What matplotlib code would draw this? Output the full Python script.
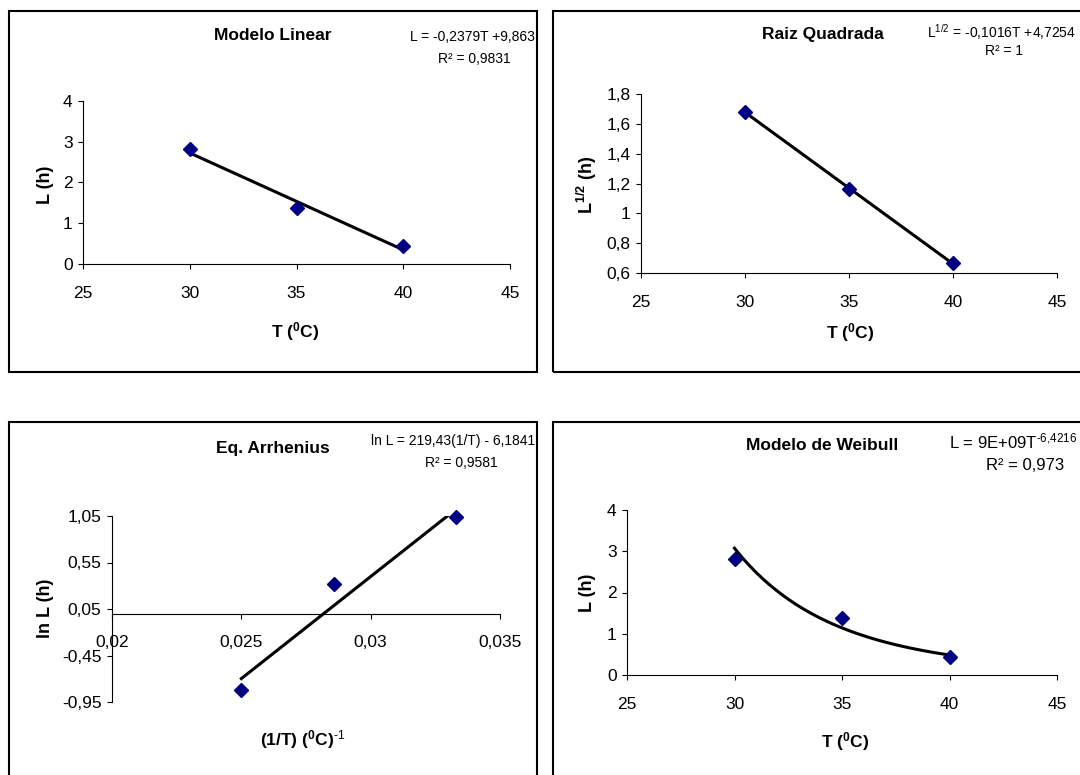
import numpy as np
import matplotlib
matplotlib.use("Agg")
import matplotlib.pyplot as plt
from matplotlib.patches import Rectangle

matplotlib.rcParams['font.family'] = ['Liberation Sans', 'DejaVu Sans']
matplotlib.rcParams['mathtext.fontset'] = 'custom'
matplotlib.rcParams['mathtext.rm'] = 'Liberation Sans'
matplotlib.rcParams['mathtext.it'] = 'Liberation Sans:italic'
matplotlib.rcParams['mathtext.bf'] = 'Liberation Sans:bold'

# ---------------- data ----------------
T = [30, 35, 40]
L = [2.82, 1.37, 0.44]
L_sqrt = [1.68, 1.16, 0.67]
inv_T = [0.0333, 0.0286, 0.025]
ln_L = [1.04, 0.32, -0.82]

# trend lines (as shown in the equations)
lin_fit = [-0.2379, 9.863]
sqrt_fit = [-0.1016, 4.7254]
arr_fit = [219.43, -6.1841]
weib_fit = [9.4e9, -6.4216]

T_ticks = [25, 30, 35, 40, 45]
L_ticks = [0, 1, 2, 3, 4]
sqrt_ticks = [0.6, 0.8, 1.0, 1.2, 1.4, 1.6, 1.8]
sqrt_ticklabels = ["0,6", "0,8", "1", "1,2", "1,4", "1,6", "1,8"]
inv_ticks = [0.02, 0.025, 0.03, 0.035]
inv_ticklabels = ["0,02", "0,025", "0,03", "0,035"]
ln_ticks = [-0.95, -0.45, 0.05, 0.55, 1.05]
ln_ticklabels = ["-0,95", "-0,45", "0,05", "0,55", "1,05"]

# ---------------- layout helpers (pixels) ----------------
W, H = 1080, 775
fig = plt.figure(figsize=(W / 100, H / 100), dpi=100)

def fx(x):
    return x / W

def fy(y):
    return 1 - y / H

def make_ax(x0, x1, ytop, ybot):
    ax = fig.add_axes([fx(x0), fy(ybot), (x1 - x0) / W, (ybot - ytop) / H])
    ax.set_facecolor('none')
    for s in ['top', 'right']:
        ax.spines[s].set_visible(False)
    for s in ['left', 'bottom']:
        ax.spines[s].set_linewidth(0.8)
    ax.tick_params(direction='out', length=3.5, width=0.8, labelsize=12.5)
    ax.tick_params(axis='x', pad=12)
    ax.tick_params(axis='y', pad=4)
    return ax

def frame(x0, y0, x1, y1):
    fig.patches.append(Rectangle((fx(x0), fy(y1)), (x1 - x0) / W, (y1 - y0) / H,
                                 transform=fig.transFigure, fill=False, lw=1.5, ec='black'))

def labels(ax, xl, xpos, yl, ypos):
    ax.set_xlabel(xl, fontsize=12.5, fontweight='bold', va='center')
    ax.xaxis.set_label_coords(fx(xpos[0]), fy(xpos[1]), transform=fig.transFigure)
    ax.set_ylabel(yl, fontsize=13, fontweight='bold', va='center')
    ax.yaxis.set_label_coords(fx(ypos[0]), fy(ypos[1]), transform=fig.transFigure)

mk = dict(marker='D', ms=7, color='#000080', ls='none', clip_on=False, zorder=3)
ln = dict(color='black', lw=2.2)

frame(9, 11, 537, 372)
frame(553, 11, 1090, 372)
frame(9, 422, 537, 790)
frame(553, 422, 1090, 790)

# ---------------- Modelo Linear ----------------
ax1 = make_ax(83, 510, 101, 264)
tt = np.array([T[0], T[-1]])
ax1.plot(tt, lin_fit[0] * tt + lin_fit[1], **ln)
ax1.plot(T, L, **mk)
ax1.set_xlim(25, 45)
ax1.set_ylim(0, 4)
ax1.set_xticks(T_ticks)
ax1.set_yticks(L_ticks)
labels(ax1, r"T ($^\mathbf{0}$C)", (295, 332), "L (h)", (46, 185))
fig.text(fx(273), fy(36), "Modelo Linear", ha='center', va='center', fontsize=12.5, fontweight='bold')
fig.text(fx(535), fy(37), "L = -0,2379T +9,863", ha='right', va='center', fontsize=10)
fig.text(fx(474), fy(59), "R² = 0,9831", ha='center', va='center', fontsize=10)

# ---------------- Raiz Quadrada ----------------
ax2 = make_ax(641, 1057, 94, 273)
ax2.plot(tt, sqrt_fit[0] * tt + sqrt_fit[1], **ln)
ax2.plot(T, L_sqrt, **mk)
ax2.set_xlim(25, 45)
ax2.set_ylim(0.6, 1.8)
ax2.set_xticks(T_ticks)
ax2.set_yticks(sqrt_ticks)
ax2.set_yticklabels(sqrt_ticklabels)
labels(ax2, r"T ($^\mathbf{0}$C)", (850, 333), r"L$^\mathbf{1/2}$ (h)", (587, 185))
fig.text(fx(823), fy(34), "Raiz Quadrada", ha='center', va='center', fontsize=12.5, fontweight='bold')
fig.text(fx(1076), fy(32), r"L$^{1/2}$ = -0,1016T +4,7254", ha='right', va='center', fontsize=10)
fig.text(fx(1004), fy(51), "R² = 1", ha='center', va='center', fontsize=10)

# ---------------- Eq. Arrhenius ----------------
ax3 = make_ax(112, 500, 516, 702)
xx = np.array([1 / T[-1], 1 / T[0]])
ax3.plot(xx, arr_fit[0] * xx + arr_fit[1], **ln)
ax3.plot(inv_T, ln_L, **mk)
ax3.set_xlim(0.02, 0.035)
ax3.set_ylim(-0.95, 1.05)
ax3.spines['bottom'].set_position(('data', 0))
ax3.set_xticks(inv_ticks)
ax3.set_xticklabels(inv_ticklabels)
ax3.set_yticks(ln_ticks)
ax3.set_yticklabels(ln_ticklabels)
labels(ax3, r"(1/T) ($^\mathbf{0}$C)$^{\text{-1}}$", (303, 740), "ln L (h)", (45, 608))
fig.text(fx(273), fy(448), "Eq. Arrhenius", ha='center', va='center', fontsize=12.5, fontweight='bold')
fig.text(fx(535), fy(441), "ln L = 219,43(1/T) - 6,1841", ha='right', va='center', fontsize=10)
fig.text(fx(461), fy(463), "R² = 0,9581", ha='center', va='center', fontsize=10)

# ---------------- Modelo de Weibull ----------------
ax4 = make_ax(627, 1057, 510, 675)
tw = np.linspace(T[0], T[-1], 100)
ax4.plot(tw, weib_fit[0] * tw ** weib_fit[1], **ln)
ax4.plot(T, L, **mk)
ax4.set_xlim(25, 45)
ax4.set_ylim(0, 4)
ax4.set_xticks(T_ticks)
ax4.set_yticks(L_ticks)
labels(ax4, r"T ($^\mathbf{0}$C)", (845, 742), "L (h)", (587, 593))
fig.text(fx(822), fy(446), "Modelo de Weibull", ha='center', va='center', fontsize=12.5, fontweight='bold')
fig.text(fx(1077), fy(441), r"L = 9E+09T$^{\text{-6,4216}}$", ha='right', va='center', fontsize=12)
fig.text(fx(1025), fy(466), "R² = 0,973", ha='center', va='center', fontsize=12)

fig.savefig("out.png", dpi=100)
